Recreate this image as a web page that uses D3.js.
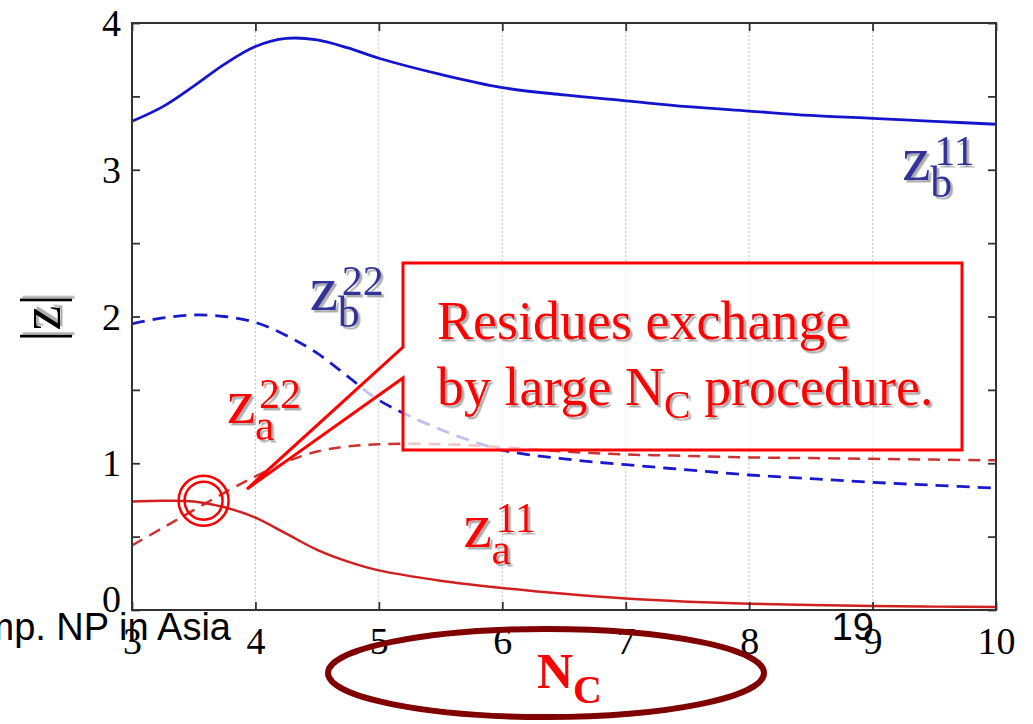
<!DOCTYPE html>
<html><head><meta charset="utf-8">
<script src="https://cdn.jsdelivr.net/npm/d3@7"></script>
<style>
html,body{margin:0;padding:0;background:#fff;overflow:hidden;}
svg{display:block;}
</style></head>
<body>
<svg id="chart" width="1033" height="724"></svg>
<script>
// ---- data ----
const nc   = [3, 3.25, 3.5, 3.75, 4, 4.25, 4.5, 4.75, 5, 5.5, 6, 6.5, 7, 7.5, 8, 8.5, 9, 9.5, 10];
const zb11 = [3.33, 3.43, 3.57, 3.72, 3.84, 3.895, 3.885, 3.83, 3.76, 3.65, 3.56, 3.51, 3.47, 3.43, 3.40, 3.37, 3.35, 3.33, 3.31];
const zb22 = [1.95, 1.99, 2.01, 2.0, 1.96, 1.87, 1.75, 1.59, 1.43, 1.23, 1.09, 1.03, 0.99, 0.955, 0.92, 0.895, 0.87, 0.85, 0.83];
const za22 = [0.44, 0.56, 0.68, 0.80, 0.91, 1.01, 1.08, 1.115, 1.13, 1.13, 1.11, 1.08, 1.06, 1.05, 1.04, 1.035, 1.03, 1.025, 1.02];
const za11 = [0.74, 0.745, 0.74, 0.70, 0.63, 0.52, 0.41, 0.33, 0.27, 0.20, 0.15, 0.11, 0.078, 0.057, 0.043, 0.034, 0.028, 0.023, 0.02];
const xTicks = [3, 4, 5, 6, 7, 8, 9, 10];
const yTicks = [0, 0.5, 1, 1.5, 2, 2.5, 3, 3.5, 4];
const seriesLabels = [
  {sub: "b", sup: "11", nc: 9.24, z: 2.93, color: "#333399"},
  {sub: "b", sup: "22", nc: 4.44, z: 2.044, color: "#333399"},
  {sub: "a", sup: "22", nc: 3.77, z: 1.274, color: "#ff0000"},
  {sub: "a", sup: "11", nc: 5.686, z: 0.429, color: "#ff0000"}
];
const crossing = {nc: 3.58, z: 0.745};
const calloutLine1 = "Residues exchange";
const calloutLine2a = "by large N", calloutLine2sub = "C", calloutLine2b = " procedure.";

const serif = "'Liberation Serif','Times New Roman',Times,serif";
const sans = "'Liberation Sans',Arial,Helvetica,sans-serif";

const svg = d3.select("#chart");
const x = d3.scaleLinear().domain([3, 10]).range([132, 996]);
const y = d3.scaleLinear().domain([0, 4]).range([610, 23]);

const defs = svg.append("defs");
const f = defs.append("filter").attr("id", "shadow").attr("x", "-20%").attr("y", "-20%").attr("width", "150%").attr("height", "150%");
f.append("feDropShadow").attr("dx", 2.5).attr("dy", 2.5).attr("stdDeviation", 0.6).attr("flood-color", "#999").attr("flood-opacity", 0.8);

// grid
svg.append("g").selectAll("line").data(xTicks.slice(1, -1)).join("line")
  .attr("x1", d => x(d)).attr("x2", d => x(d)).attr("y1", y(4)).attr("y2", y(0))
  .attr("stroke", "#c4c4c4").attr("stroke-width", 1).attr("stroke-dasharray", "2,2");

// curves
const line = d3.line().x((d, i) => x(nc[i])).y(d => y(d)).curve(d3.curveCatmullRom.alpha(0.5));
const curves = [
  {data: zb11, color: "#1414cc", dash: null, w: 2.8},
  {data: zb22, color: "#1a1acc", dash: "13,8", w: 2.8},
  {data: za22, color: "#cc3333", dash: "12,8", w: 2.5},
  {data: za11, color: "#d02020", dash: null, w: 2.5}
];
svg.append("g").selectAll("path").data(curves).join("path")
  .attr("d", d => line(d.data)).attr("fill", "none")
  .attr("stroke", d => d.color).attr("stroke-width", d => d.w)
  .attr("stroke-dasharray", d => d.dash);

// axes (ticks inside)
function styleAxis(g) {
  g.select(".domain").remove();
  g.selectAll(".tick line").attr("stroke", "#333").attr("stroke-width", 1.8);
  g.selectAll(".tick text").attr("font-family", serif).attr("font-size", 38).attr("fill", "#000");
}
svg.append("g").attr("transform", `translate(0,${y(0)})`)
  .call(d3.axisBottom(x).tickValues(xTicks).tickSize(-8).tickPadding(17).tickFormat(d3.format("d")))
  .call(styleAxis);
svg.append("g").attr("transform", `translate(0,${y(4)})`)
  .call(d3.axisTop(x).tickValues(xTicks).tickSize(-8).tickFormat(""))
  .call(styleAxis);
svg.append("g").attr("transform", `translate(${x(3)},0)`)
  .call(d3.axisLeft(y).tickValues(yTicks).tickSize(-8).tickPadding(11)
    .tickFormat(d => Number.isInteger(d) ? d : ""))
  .call(styleAxis)
  .selectAll(".tick text").attr("dy", d => d === 0 ? "0.05em" : "0.33em");
svg.append("g").attr("transform", `translate(${x(10)},0)`)
  .call(d3.axisRight(y).tickValues(yTicks).tickSize(-8).tickFormat(""))
  .call(styleAxis);

// frame
svg.append("rect").attr("x", x(3)).attr("y", y(4)).attr("width", x(10) - x(3)).attr("height", y(0) - y(4))
  .attr("fill", "none").attr("stroke", "#333").attr("stroke-width", 2);

// series labels
const lg = svg.append("g").selectAll("g").data(seriesLabels).join("g")
  .attr("transform", d => `translate(${x(d.nc)},${y(d.z)})`)
  .attr("fill", d => d.color).attr("font-family", serif).attr("filter", "url(#shadow)");
lg.append("text").attr("x", 0).attr("y", 0).attr("font-size", 64).text("z");
lg.append("text").attr("x", 28).attr("y", 17).attr("font-size", 44).text(d => d.sub);
lg.append("text").attr("x", 32).attr("y", -15).attr("font-size", 42).text(d => d.sup);

// callout
const bx0 = 403, bx1 = 962, by0 = 263, by1 = 450;
const tip = [247, 489];
svg.append("polygon")
  .attr("points", [[bx0, by0], [bx1, by0], [bx1, by1], [bx0, by1], [bx0, 378], tip, [bx0, 347]].map(p => p.join(",")).join(" "))
  .attr("fill", "#fff").attr("fill-opacity", 0.72).attr("stroke", "#ff0000").attr("stroke-width", 3)
  .attr("stroke-linejoin", "miter");
const ct = svg.append("g").attr("fill", "#ff0000").attr("font-family", serif).attr("filter", "url(#shadow)");
ct.append("text").attr("x", 437).attr("y", 339).attr("font-size", 54).text(calloutLine1);
const t2 = ct.append("text").attr("x", 437).attr("y", 405).attr("font-size", 54);
t2.append("tspan").text(calloutLine2a);
t2.append("tspan").attr("dy", 13).attr("font-size", 40).text(calloutLine2sub);
t2.append("tspan").attr("dy", -13).text(calloutLine2b);

// double circle at crossing
svg.append("g").selectAll("circle").data([25, 19]).join("circle")
  .attr("cx", x(crossing.nc)).attr("cy", y(crossing.z)).attr("r", d => d)
  .attr("fill", "none").attr("stroke", "#ff0000").attr("stroke-width", 2.5);

// y axis label |z|
svg.append("text").attr("transform", "translate(60,318) rotate(-90)")
  .attr("text-anchor", "middle").attr("font-family", serif).attr("font-size", 56)
  .attr("fill", "#000").attr("filter", "url(#shadow)").text("|z|");

// x axis label N_C with ellipse
svg.append("ellipse").attr("cx", 546).attr("cy", 673).attr("rx", 218).attr("ry", 44)
  .attr("fill", "none").attr("stroke", "#800000").attr("stroke-width", 6);
const xl = svg.append("text").attr("x", 537).attr("y", 688).attr("font-family", serif)
  .attr("fill", "#ff0000").attr("font-weight", "bold").attr("font-size", 50);
xl.append("tspan").text("N");
xl.append("tspan").attr("dy", 15).attr("font-size", 40).text("C");

// slide footer texts
svg.append("text").attr("x", 231).attr("y", 640).attr("text-anchor", "end")
  .attr("font-family", sans).attr("font-size", 38).attr("fill", "#000").text("Symp. NP in Asia");
svg.append("text").attr("x", 874).attr("y", 640).attr("text-anchor", "end")
  .attr("font-family", sans).attr("font-size", 38).attr("fill", "#000").text("19");
</script>
</body></html>
